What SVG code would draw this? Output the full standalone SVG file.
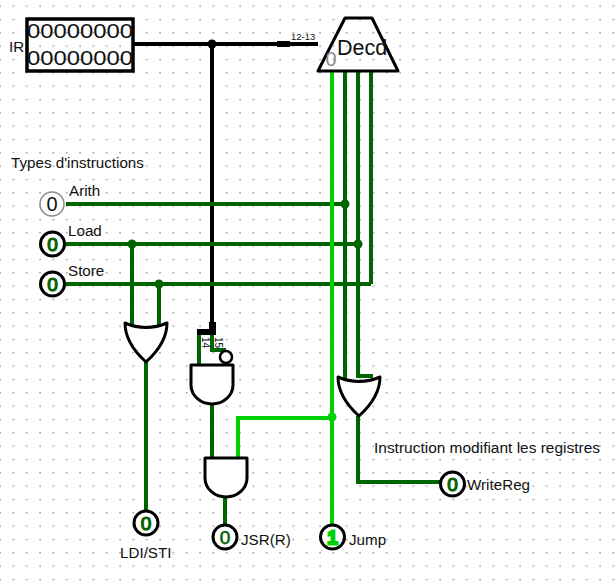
<svg xmlns="http://www.w3.org/2000/svg" width="616" height="584" viewBox="0 0 616 584">
<style>
text{font-family:"Liberation Sans",Arial,sans-serif;font-size:15.2px;fill:#111}
.w{fill:none;stroke:#006400;stroke-width:4}
.l{fill:none;stroke:#00d200;stroke-width:4}
.b{fill:none;stroke:#000;stroke-width:4}
.g{fill:#fff;stroke:#000;stroke-width:3;stroke-linejoin:round}
.pin{fill:#fff;stroke:#000;stroke-width:3}
.v{font-size:19px;text-anchor:middle;fill:#006400;stroke:#006400;stroke-width:1.2}
</style>
<defs>
<pattern id="grid" x="0" y="5.500" width="13.333" height="13.333" patternUnits="userSpaceOnUse"><rect x="12.700" y="0" width="1.300" height="1.300" fill="#777"/><rect x="0" y="0" width="0.700" height="1.300" fill="#777"/></pattern>
<path id="or" class="g" d="M-21 0Q0 9 21 0Q21 20 0 39Q-21 20 -21 0Z"/>
<path id="and" class="g" d="M-21 0H21V20A21 19 0 0 1 -21 20Z"/>
</defs>
<rect width="616" height="584" fill="#fff"/>
<rect width="616" height="584" fill="url(#grid)"/>
<g id="connectors">
<path class="b" d="M133 44H318M212 44V330"/>
<circle cx="212" cy="44" r="4.500"/>
<rect x="277" y="41" width="13" height="6"/>
<path class="w" d="M199 333V365M212 335V350H226"/>
<rect x="197" y="329" width="19" height="6"/>
<rect x="209" y="322" width="7" height="8"/>
<path class="w" d="M66 204H345M66 244H358M66 284H371M132 244V328M159 284V328M146 362V511M345 72V379M358 72V376H373M371 72V284M358 416V482H440M212 403V458M225 496V525"/>
<path class="l" d="M332 72V525M332 418H238V458"/>
<g fill="#006400"><circle cx="345" cy="204" r="4.500"/><circle cx="358" cy="244" r="4.500"/><circle cx="132" cy="244" r="4.500"/><circle cx="159" cy="284" r="4.500"/></g>
<circle cx="332" cy="417" r="4.500" fill="#00d200"/>
</g>
<g id="ir"><rect x="27" y="19" width="106" height="52" fill="none" stroke="#000" stroke-width="3.500"/>
<text x="27" y="38" style="font-size:21px" textLength="106" lengthAdjust="spacingAndGlyphs">00000000</text>
<text x="27" y="65" style="font-size:21px" textLength="106" lengthAdjust="spacingAndGlyphs">00000000</text>
<text x="9" y="52">IR</text></g>
<g id="decoder"><path d="M345 18H372L398 71H318Z" fill="none" stroke="#000" stroke-width="3" stroke-linejoin="round"/>
<text x="337" y="55" style="font-size:21.500px">Decd</text>
<text x="331" y="66" text-anchor="middle" style="font-size:20px;fill:#8a8a8a">0</text>
<text x="291" y="40" style="font-size:9.500px">12-13</text></g>
<text id="title" x="11" y="168">Types d'instructions</text>
<g id="arith"><circle cx="52" cy="204" r="12" fill="#fff" stroke="#8a8a8a" stroke-width="1.500"/><text x="52" y="211" text-anchor="middle" style="font-size:20px">0</text><text x="69" y="196">Arith</text></g>
<g id="load"><circle class="pin" cx="52.500" cy="244" r="12"/><text class="v" x="52.500" y="251">0</text><text x="68" y="236">Load</text></g>
<g id="store"><circle class="pin" cx="52.500" cy="284" r="12"/><text class="v" x="52.500" y="291">0</text><text x="68" y="276">Store</text></g>
<g id="or1"><use href="#or" x="146" y="323"/></g>
<g id="or2"><use href="#or" x="359" y="377"/></g>
<g id="and1"><use href="#and" x="212" y="365"/></g>
<g id="and2"><use href="#and" x="226" y="458"/></g>
<g id="not"><circle cx="226" cy="357" r="6" fill="#fff" stroke="#000" stroke-width="2.500"/></g>
<text id="l14" transform="translate(202 337) rotate(90)" style="font-size:10px">14</text>
<text id="l15" transform="translate(215 337) rotate(90)" style="font-size:10px">15</text>
<g id="ldi"><circle class="pin" cx="146" cy="523" r="12"/><text class="v" x="146" y="530">0</text><text x="120" y="558">LDI/STI</text></g>
<g id="jsr"><circle class="pin" cx="225" cy="537" r="12"/><text class="v" x="225" y="544" style="stroke-width:0.600">0</text><text x="241" y="545">JSR(R)</text></g>
<g id="jump"><circle class="pin" cx="332.500" cy="537" r="12"/><text class="v" x="332.500" y="544" style="fill:#00d200;stroke:#00d200;stroke-width:3">1</text><text x="349" y="545">Jump</text></g>
<g id="writereg"><circle class="pin" cx="452.500" cy="484" r="12"/><text class="v" x="452.500" y="491">0</text><text x="467" y="490">WriteReg</text></g>
<text id="note" x="374" y="453" textLength="226" lengthAdjust="spacingAndGlyphs">Instruction modifiant les registres</text>
</svg>
